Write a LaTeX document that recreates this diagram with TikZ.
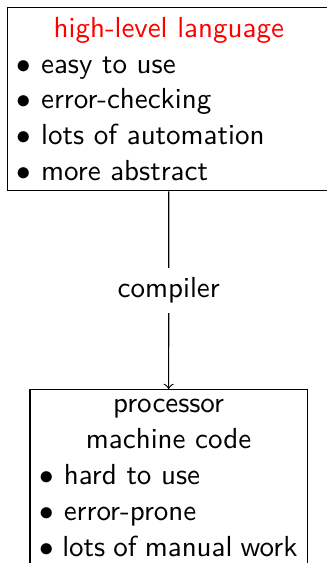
\documentclass[tikz,border=0pt]{standalone}
\begin{document}
\begin{tikzpicture}[x=0.3448pt,y=-0.3448pt,
  every node/.style={font=\sffamily\fontsize{10}{12.4}\selectfont},
  box/.style={draw, line width=0.4pt, inner sep=3.33pt, align=justify},
  flow/.style={draw, line width=0.4pt, ->},
  lbl/.style={fill=white, inner sep=3.33pt}]
\useasboundingbox (0,0) rectangle (326,563);
% upper block: the language side
\node[box, anchor=north, text width=104.7pt] (hll) at (168.8,6.7)
  {{\centering\color{red}high-level language\par}%
   $\bullet$ easy to use\\
   $\bullet$ error-checking\\
   $\bullet$ lots of automation\\
   $\bullet$ more abstract};
% lower block: the machine side
\node[box, anchor=north, text width=88.9pt] (pmc) at (168.6,389)
  {{\centering processor\\ machine code\par}%
   $\bullet$ hard to use\\
   $\bullet$ error-prone\\
   $\bullet$ lots of manual work};
% translation step
\draw[flow] (hll) -- node[lbl] (cmp) {compiler} (pmc);
\end{tikzpicture}
\end{document}
